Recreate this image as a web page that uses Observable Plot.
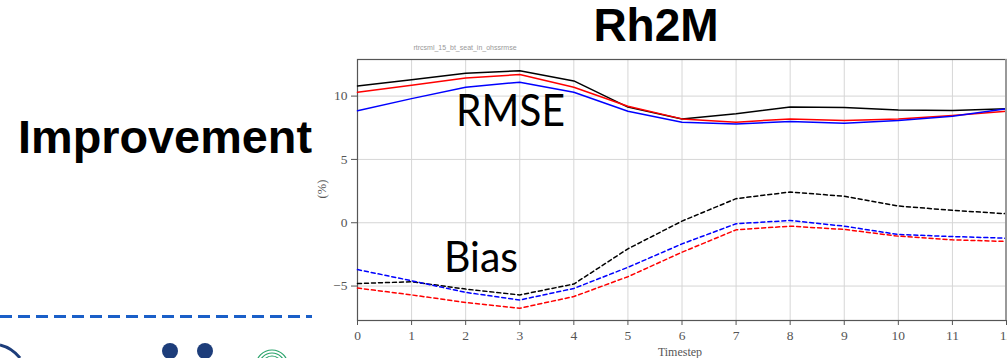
<!DOCTYPE html>
<html>
<head>
<meta charset="utf-8">
<script src="https://cdn.jsdelivr.net/npm/d3@7"></script>
<script src="https://cdn.jsdelivr.net/npm/@observablehq/plot@0.6"></script>
<style>
  html, body { margin: 0; padding: 0; background: #fff; }
  #wrap { position: relative; width: 1007px; height: 358px; overflow: hidden; }
  #chart { position: absolute; left: 0; top: 0; }
  #chart svg text { font-family: 'Liberation Serif', 'DejaVu Serif', serif !important; font-size: 13.5px !important; fill: #555; }
  #overlay { position: absolute; left: 0; top: 0; pointer-events: none; }
</style>
</head>
<body>
<div id="wrap">
  <div id="chart"></div>
  <svg id="overlay" width="1007" height="358"></svg>
</div>
<script>
// ---- data ----
const timesteps = [0, 1, 2, 3, 4, 5, 6, 7, 8, 9, 10, 11, 12];
const rmseBlack = [10.8, 11.3, 11.8, 12.0, 11.2, 9.13, 8.2, 8.6, 9.13, 9.1, 8.9, 8.87, 9.0];
const rmseRed   = [10.3, 10.85, 11.43, 11.7, 10.7, 9.2, 8.2, 7.94, 8.2, 8.07, 8.2, 8.47, 8.8];
const rmseBlue  = [8.84, 9.8, 10.7, 11.1, 10.3, 8.8, 7.94, 7.8, 8.0, 7.86, 8.07, 8.4, 9.0];
const biasBlack = [-4.8, -4.66, -5.24, -5.7, -4.84, -2.06, 0.13, 1.9, 2.43, 2.09, 1.32, 0.98, 0.71];
const biasRed   = [-5.16, -5.7, -6.3, -6.75, -5.83, -4.26, -2.33, -0.56, -0.27, -0.53, -1.06, -1.35, -1.48];
const biasBlue  = [-3.7, -4.58, -5.5, -6.1, -5.19, -3.52, -1.67, -0.08, 0.18, -0.27, -0.93, -1.09, -1.22];
const xTicks = [0, 1, 2, 3, 4, 5, 6, 7, 8, 9, 10, 11, 12];
const yTicks = [-5, 0, 5, 10];
const seriesDefs = [
  {name: "rmse-black", values: rmseBlack, color: "#000000", dashed: false},
  {name: "rmse-red",   values: rmseRed,   color: "#ff0000", dashed: false},
  {name: "rmse-blue",  values: rmseBlue,  color: "#0000ff", dashed: false},
  {name: "bias-black", values: biasBlack, color: "#000000", dashed: true},
  {name: "bias-blue",  values: biasBlue,  color: "#0000ff", dashed: true},
  {name: "bias-red",   values: biasRed,   color: "#ff0000", dashed: true}
];

const rows = s => timesteps.map((t, i) => ({t, v: s.values[i], name: s.name}));

const marks = [
  Plot.gridX(xTicks, {stroke: "#d6d6d6", strokeOpacity: 1, strokeWidth: 1}),
  Plot.gridY(yTicks, {stroke: "#d6d6d6", strokeOpacity: 1, strokeWidth: 1}),
  Plot.axisY(yTicks, {tickSize: 6, tickPadding: 4, stroke: "#555", fill: "#555", label: null}),
  Plot.axisX(xTicks, {tickSize: 5, tickPadding: 5, stroke: "#555", fill: "#555", label: null}),
  Plot.frame({stroke: "#555", strokeWidth: 1.2})
];
for (const s of seriesDefs) {
  marks.push(Plot.line(rows(s), {
    x: "t", y: "v",
    stroke: s.color,
    strokeWidth: 1.5,
    strokeDasharray: s.dashed ? "4,3" : null
  }));
}
marks.push(Plot.ruleX([12], {stroke: "#999", strokeWidth: 3}));

const chart = Plot.plot({
  width: 1007,
  height: 358,
  marginLeft: 357,
  marginRight: 1,
  marginTop: 59,
  marginBottom: 38,
  x: {domain: [0, 12]},
  y: {domain: [-7.72, 12.89]},
  style: {fontFamily: "'Liberation Serif', 'DejaVu Serif', serif", fontSize: "13.5px", color: "#555", background: "transparent"},
  marks
});
document.getElementById("chart").appendChild(chart);

// ---- annotations / slide decorations ----
const ov = d3.select("#overlay");
ov.append("text").attr("x", 656).attr("y", 41).attr("text-anchor", "middle")
  .attr("font-family", "'Liberation Sans', Arial, sans-serif").attr("font-weight", "bold")
  .attr("font-size", 46).text("Rh2M");
ov.append("text").attr("x", 18).attr("y", 153)
  .attr("font-family", "'Liberation Sans', Arial, sans-serif").attr("font-weight", "bold")
  .attr("font-size", 46).attr("textLength", 294).attr("lengthAdjust", "spacingAndGlyphs").text("Improvement");
ov.append("text").attr("x", 456).attr("y", 126)
  .attr("font-family", "Lato, 'Open Sans', sans-serif")
  .attr("font-size", 44).attr("textLength", 109).attr("lengthAdjust", "spacingAndGlyphs").text("RMSE");
ov.append("text").attr("x", 444).attr("y", 272)
  .attr("font-family", "Lato, 'Open Sans', sans-serif")
  .attr("font-size", 42).attr("textLength", 74).attr("lengthAdjust", "spacingAndGlyphs").text("Bias");
ov.append("text").attr("transform", "translate(326,189) rotate(-90)").attr("text-anchor", "middle")
  .attr("font-family", "'Liberation Serif', serif").attr("font-size", 12.5).attr("fill", "#555").text("(%)");
ov.append("text").attr("x", 680).attr("y", 356).attr("text-anchor", "middle")
  .attr("font-family", "'Liberation Serif', serif").attr("font-size", 12).attr("fill", "#555").text("Timestep");
ov.append("text").attr("x", 465).attr("y", 50).attr("text-anchor", "middle")
  .attr("font-family", "'Liberation Sans', sans-serif").attr("font-size", 7).attr("fill", "#999").text("rtrcsml_15_bt_seat_in_ohssrmse");
// dashed separator
ov.append("line").attr("x1", 0).attr("x2", 312).attr("y1", 316.5).attr("y2", 316.5)
  .attr("stroke", "#1a5fc8").attr("stroke-width", 3).attr("stroke-dasharray", "12,6");
// logo hints
ov.append("circle").attr("cx", 170).attr("cy", 351).attr("r", 8).attr("fill", "#1d3d7a");
ov.append("circle").attr("cx", 205).attr("cy", 351).attr("r", 8).attr("fill", "#1d3d7a");
for (let r = 4; r <= 18; r += 3) {
  ov.append("circle").attr("cx", 272).attr("cy", 366).attr("r", r).attr("fill", "none")
    .attr("stroke", "#2aa36b").attr("stroke-width", 1.2);
}
ov.append("path").attr("d", "M0,345 Q12,348 20,358").attr("stroke", "#1d3d7a").attr("stroke-width", 3).attr("fill", "none");
</script>
</body>
</html>
